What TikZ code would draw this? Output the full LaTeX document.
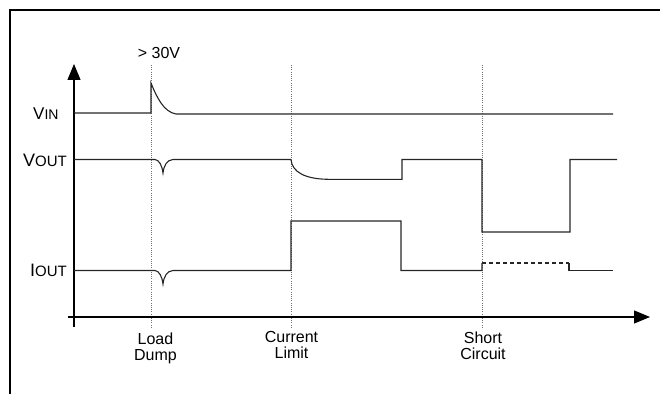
\documentclass[tikz,border=0pt]{standalone}
\usepackage{fontspec}
\setmainfont{Liberation Sans}
\usetikzlibrary{arrows.meta}
\begin{document}
\begin{tikzpicture}[x=1pt,y=-1pt,
  wave/.style={line width=1.1pt, black!85, line join=miter},
  guide/.style={black!55, line width=0.9pt, dash pattern=on 1pt off 1.2pt},
  axis/.style={line width=1.1pt, black},
  tip/.style={-{Triangle[width=13pt,length=16pt]}},
  lbl/.style={inner sep=0pt, font=\fontsize{16}{16}\selectfont, align=center},
  sig/.style={inner sep=0pt}
]
\useasboundingbox (0,0) rectangle (660,393);
% frame
\draw[line width=2.4pt] (10,395) -- (10,10) -- (662,10);
% guides
\coordinate (g1t) at (151,65); \coordinate (g1b) at (151,327);
\coordinate (g2t) at (291,65); \coordinate (g2b) at (291,327);
\coordinate (g3t) at (482,65); \coordinate (g3b) at (482,327);
\draw[guide] (g1t) -- (g1b);
\draw[guide] (g2t) -- (g2b);
\draw[guide] (g3t) -- (g3b);
% axes
\coordinate (yb) at (74,327); \coordinate (yt) at (74,64);
\coordinate (xl) at (68,317); \coordinate (xr) at (650,317);
\draw[axis,tip] (yb) -- (yt);
\draw[axis,tip] (xl) -- (xr);
% VIN
\draw[wave] (74,113) -- (151,113) -- (151,83)
  .. controls (157,98) and (164,112) .. (176,114) -- (613,114);
% VOUT
\draw[wave] (74,159.5) -- (155,159.5)
  .. controls (159,160) and (162,165) .. (163,173)
  .. controls (164,165) and (167,160) .. (173,159.5)
  -- (291,159.5)
  .. controls (292,172) and (305,179) .. (328,179.3)
  -- (402,179.3) -- (402,159.5) -- (482,159.5) -- (482,232)
  -- (570,232) -- (570,159.5) -- (617,159.5);
% IOUT
\draw[wave] (74,270.5) -- (155,270.5)
  .. controls (159,271) and (162,276) .. (163,284)
  .. controls (164,276) and (167,271) .. (173,270.5)
  -- (291,270.5) -- (291,221) -- (401,221) -- (401,270.5)
  -- (482,270.5) -- (482,263);
\draw[wave, dash pattern=on 4pt off 3pt] (482,263) -- (569,263);
\draw[wave] (569,263) -- (569,270.5) -- (613,270.5);
% labels
\node[lbl, anchor=base] (over) at (159,59) {> 30V};
\node[sig, anchor=base west] (vin) at (33,119)
  {\fontsize{17}{17}\selectfont V\fontsize{14}{14}\selectfont IN};
\node[sig, anchor=base east] (vout) at (67,166.7)
  {\fontsize{18}{18}\selectfont V\fontsize{15}{15}\selectfont OUT};
\node[sig, anchor=base east] (iout) at (67,276.7)
  {\fontsize{18}{18}\selectfont I\fontsize{15}{15}\selectfont OUT};
\node[lbl, anchor=north] (ld) at (155.5,332.5) {Load\\Dump};
\node[lbl, anchor=north] (cl) at (291.5,331.5) {Current\\Limit};
\node[lbl, anchor=north] (sc) at (483,331.5) {Short\\Circuit};
\end{tikzpicture}
\end{document}
